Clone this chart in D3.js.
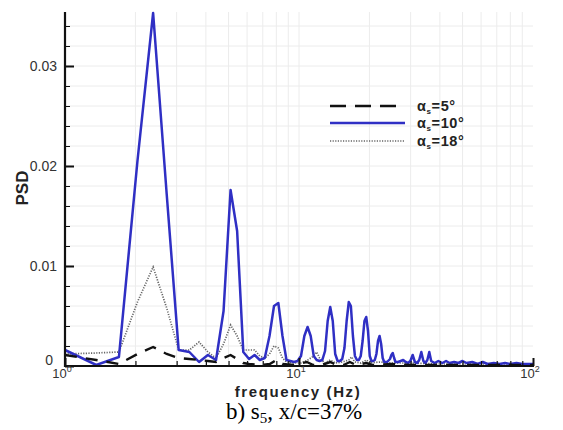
<!DOCTYPE html>
<html><head><meta charset="utf-8">
<script src="https://cdn.jsdelivr.net/npm/d3@7"></script>
<style>
body{margin:0;background:#fff;}
svg{display:block;font-family:"Liberation Sans",Arial,sans-serif;}
</style></head>
<body>
<svg id="c" width="563" height="430"></svg>
<script>
// ---- data (frequency Hz, PSD) ----
const psd5 = [[1.00,0.0011],[1.36,0.0006],[1.70,0.0002],[2.04,0.0012],[2.38,0.0019],[2.72,0.0012],[3.06,0.0008],[3.40,0.0007],[3.74,0.0006],[4.08,0.0005],[4.42,0.0004],[4.76,0.0008],[5.10,0.0011],[5.44,0.0007],[5.78,0.0003],[6.12,0.0002],[6.80,0.0001],[7.50,0.0002],[8.00,0.0006],[8.50,0.0002],[9.50,0.0001],[10.8,0.0004],[11.5,0.0001],[12.5,0.0001],[13.6,0.0004],[14.5,0.0001],[15.5,0.0001],[16.5,0.0004],[17.5,0.0001],[19.4,0.0003],[20.5,0.0001],[25,0.0002],[30,0.0001],[40,0.0001],[60,0.0001],[100,0.0001]];
const psd10 = [[1.00,0.0016],[1.36,0.0001],[1.70,0.0009],[2.04,0.0205],[2.38,0.0353],[2.72,0.0172],[3.06,0.0016],[3.40,0.0014],[3.74,0.0004],[4.08,0.0011],[4.42,0.0006],[4.76,0.0055],[5.10,0.0176],[5.44,0.0135],[5.78,0.0014],[6.12,0.0007],[6.46,0.0011],[6.80,0.0006],[7.14,0.0008],[7.48,0.0030],[7.82,0.0060],[8.16,0.0063],[8.50,0.0030],[8.84,0.0006],[9.18,0.0005],[9.52,0.0004],[9.86,0.0005],[10.20,0.0010],[10.54,0.0030],[10.88,0.0039],[11.22,0.0030],[11.56,0.0010],[11.90,0.0006],[12.24,0.0005],[12.58,0.0006],[12.92,0.0015],[13.26,0.0045],[13.60,0.0059],[13.94,0.0045],[14.28,0.0012],[14.62,0.0005],[14.96,0.0005],[15.30,0.0007],[15.64,0.0018],[15.98,0.0045],[16.32,0.0064],[16.66,0.0060],[17.00,0.0030],[17.34,0.0010],[17.68,0.0006],[18.02,0.0006],[18.36,0.0010],[18.70,0.0025],[19.04,0.0045],[19.38,0.0049],[19.72,0.0035],[20.06,0.0010],[20.40,0.0005],[20.74,0.0005],[21.08,0.0006],[21.42,0.0012],[21.76,0.0025],[22.10,0.0030],[22.44,0.0022],[22.78,0.0008],[23.12,0.0004],[23.80,0.0004],[24.48,0.0007],[24.82,0.0011],[25.16,0.0013],[25.50,0.0008],[25.84,0.0004],[26.52,0.0004],[27.20,0.0005],[27.88,0.0006],[28.56,0.0004],[29.24,0.0003],[29.92,0.0005],[30.60,0.0011],[31.28,0.0004],[32.00,0.0003],[32.64,0.0006],[33.32,0.0014],[34.00,0.0005],[34.68,0.0003],[35.36,0.0006],[36.04,0.0014],[36.72,0.0005],[38.0,0.0003],[39.4,0.0005],[41.0,0.0003],[42.5,0.0005],[44.0,0.0003],[46.0,0.0004],[48.0,0.0003],[50.0,0.0005],[52.0,0.0003],[55.0,0.0004],[58.0,0.0002],[61.0,0.0004],[64.0,0.0002],[68.0,0.0003],[72.0,0.0002],[76.0,0.0003],[80.0,0.0002],[85.0,0.0003],[90.0,0.0002],[95.0,0.0002],[100.0,0.0002]];
const psd18 = [[1.00,0.0012],[1.36,0.0013],[1.70,0.0014],[2.04,0.0064],[2.38,0.0099],[2.72,0.0058],[3.06,0.0016],[3.40,0.0016],[3.74,0.0024],[4.08,0.0014],[4.42,0.0008],[4.76,0.0022],[5.10,0.0041],[5.44,0.0030],[5.78,0.0016],[6.12,0.0016],[6.46,0.0016],[6.80,0.0010],[7.14,0.0008],[7.48,0.0012],[7.82,0.0020],[8.16,0.0018],[8.50,0.0008],[8.84,0.0004],[9.50,0.0003],[10.2,0.0003],[10.9,0.0006],[11.56,0.0010],[11.9,0.0014],[12.24,0.0008],[12.9,0.0003],[13.6,0.0006],[14.3,0.0003],[15.3,0.0004],[16.3,0.0006],[16.8,0.0009],[17.3,0.0004],[18.4,0.0003],[19.4,0.0006],[20.1,0.0003],[22.0,0.0004],[25.0,0.0003],[30.0,0.0003],[40,0.0002],[60,0.0002],[100,0.0002]];
const yTickValues = [0, 0.01, 0.02, 0.03];
const yTickLabels = ["0", "0.01", "0.02", "0.03"];
const xTickValues = [1, 10, 100];
const xTickExps = ["0", "1", "2"];
const legendLabels = ["=5°", "=10°", "=18°"];

// ---- layout ----
const L = 65, R = 533, T = 12, B = 366;
const svg = d3.select("#c");
const x = d3.scaleLog().domain([1, 100]).range([L, R]);
const y = d3.scaleLinear().domain([0, 0.0354]).range([B, T]);

// grid
const yMinor = d3.range(0.002, 0.0345, 0.002);
const xMinor = [2,3,4,5,6,7,8,9,10,20,30,40,50,60,70,80,90];
svg.append("g").selectAll("line").data(yMinor).join("line")
  .attr("x1", L).attr("x2", R).attr("y1", d => y(d)).attr("y2", d => y(d))
  .attr("stroke", "#ececec").attr("stroke-width", 1);
svg.append("g").selectAll("line").data(xMinor).join("line")
  .attr("x1", d => x(d)).attr("x2", d => x(d)).attr("y1", T).attr("y2", B)
  .attr("stroke", "#ececec").attr("stroke-width", 1);

// clip
svg.append("clipPath").attr("id", "clip").append("rect")
  .attr("x", L).attr("y", T - 2).attr("width", R - L).attr("height", B - T + 2);

const line = d3.line().x(d => x(d[0])).y(d => y(d[1]));
const g = svg.append("g").attr("clip-path", "url(#clip)");
g.append("path").datum(psd18).attr("d", line).attr("fill", "none")
  .attr("stroke", "#666").attr("stroke-width", 1.7).attr("stroke-dasharray", "1.2,1.4");
g.append("path").datum(psd10).attr("d", line).attr("fill", "none")
  .attr("stroke", "#2f2fc4").attr("stroke-width", 2.5).attr("stroke-linejoin", "round");
g.append("path").datum(psd5).attr("d", line).attr("fill", "none")
  .attr("stroke", "#111").attr("stroke-width", 2.4).attr("stroke-dasharray", "12,9");

// y axis (ticks inward)
const yAxis = d3.axisRight(y).tickValues(d3.range(0, 0.0345, 0.002))
  .tickSize(0).tickFormat("");
const ya = svg.append("g").attr("transform", `translate(${L},0)`).call(yAxis);
ya.select(".domain").remove();
ya.selectAll(".tick line").attr("x2", d => (Math.round(d * 1000) % 10 === 0 ? 9 : 5))
  .attr("stroke", "#111").attr("stroke-width", d => (Math.round(d * 1000) % 10 === 0 ? 2 : 1));
svg.append("line").attr("x1", L).attr("x2", L).attr("y1", T).attr("y2", B + 1)
  .attr("stroke", "#111").attr("stroke-width", 2.2);

// x axis (ticks upward)
const xAll = [1,2,3,4,5,6,7,8,9,10,20,30,40,50,60,70,80,90,100];
const xAxis = d3.axisTop(x).tickValues(xAll).tickSize(0).tickFormat("");
const xa = svg.append("g").attr("transform", `translate(0,${B})`).call(xAxis);
xa.select(".domain").remove();
xa.selectAll(".tick line").attr("y2", d => (xTickValues.includes(d) ? -8 : -5))
  .attr("stroke", "#111").attr("stroke-width", d => (xTickValues.includes(d) ? 2 : 1.2));
svg.append("line").attr("x1", L - 1).attr("x2", R + 1).attr("y1", B).attr("y2", B)
  .attr("stroke", "#111").attr("stroke-width", 2.2);

// y tick labels
svg.append("g").selectAll("text").data(yTickValues).join("text")
  .attr("x", (d, i) => (i === 0 ? 53 : 57))
  .attr("y", (d, i) => (i === 0 ? y(d) - 1 : y(d) + 5))
  .attr("text-anchor", "end").attr("font-size", 14).attr("fill", "#333")
  .text((d, i) => yTickLabels[i]);

// x tick labels
const xl = svg.append("g").selectAll("text").data(xTickValues).join("text")
  .attr("x", d => x(d) - 3).attr("y", 378)
  .attr("text-anchor", "middle").attr("font-size", 13).attr("fill", "#333");
xl.append("tspan").text("10");
xl.append("tspan").attr("dy", -6).attr("font-size", 9).text((d, i) => xTickExps[i]);

// axis titles
svg.append("text").attr("x", 298).attr("y", 397).attr("text-anchor", "middle")
  .attr("font-size", 15).attr("font-weight", "bold").attr("letter-spacing", 1.6)
  .attr("fill", "#222").text("frequency (Hz)");
svg.append("text").attr("transform", "translate(28,188) rotate(-90)")
  .attr("text-anchor", "middle").attr("font-size", 17).attr("font-weight", "bold")
  .attr("fill", "#222").text("PSD");

// legend
const legY = [106, 123, 141];
const styles = [
  {stroke: "#111", w: 2.4, dash: "16,9"},
  {stroke: "#2f2fc4", w: 2.4, dash: null},
  {stroke: "#666", w: 1.7, dash: "1.2,1.4"}
];
const lg = svg.append("g");
legY.forEach((yy, i) => {
  lg.append("line").attr("x1", 330).attr("x2", 405).attr("y1", yy).attr("y2", yy)
    .attr("stroke", styles[i].stroke).attr("stroke-width", styles[i].w)
    .attr("stroke-dasharray", styles[i].dash);
  const t = lg.append("text").attr("x", 417).attr("y", yy + 5)
    .attr("font-size", 14.5).attr("font-weight", "bold").attr("fill", "#222")
    .attr("letter-spacing", 0.6);
  t.append("tspan").text("α");
  t.append("tspan").attr("dy", 3).attr("font-size", 8).text("s");
  t.append("tspan").attr("dy", -3).text(legendLabels[i]);
});

// caption
const cap = svg.append("text").attr("x", 294).attr("y", 419).attr("text-anchor", "middle")
  .style("font-family", "'Liberation Serif','Times New Roman',serif").attr("font-size", 23).attr("fill", "#000");
cap.append("tspan").text("b) s");
cap.append("tspan").attr("dy", 4).attr("font-size", 15).text("5");
cap.append("tspan").attr("dy", -4).text(", x/c=37%");
</script>
</body></html>
